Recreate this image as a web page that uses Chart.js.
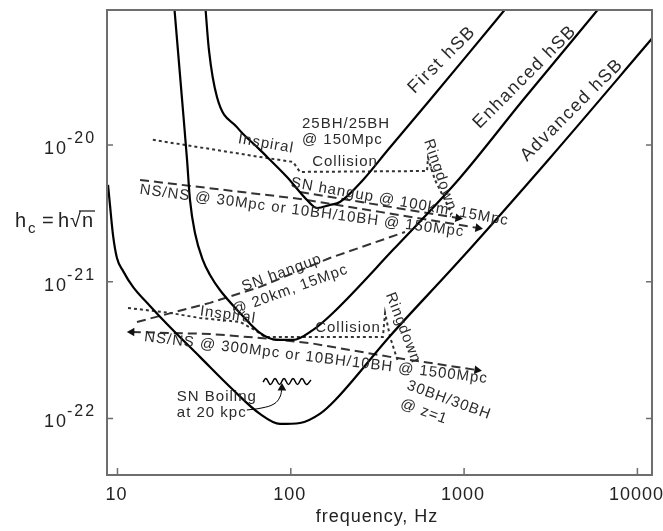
<!DOCTYPE html>
<html>
<head>
<meta charset="utf-8">
<script src="https://cdn.jsdelivr.net/npm/chart.js@4.4.1/dist/chart.umd.min.js"></script>
<style>
  html, body { margin: 0; padding: 0; background: #fff; }
</style>
</head>
<body>
<canvas id="grafico" width="663" height="531"></canvas>
<script>
// detector sensitivity curves: frequency (Hz) and strain h_c
var firstF = [32, 33.7, 37.5, 48.9, 66.4, 95.1, 124, 142, 168, 192, 261, 359, 635, 1081, 1791];
var firstH = [1.1e-19, 4.95e-20, 2.24e-20, 1.35e-20, 9.2e-21, 5.83e-21, 3.96e-21, 3.46e-21, 3.64e-21, 3.83e-21, 5.55e-21, 9.04e-21, 2.13e-20, 4.79e-20, 1.04e-19];

var enhF = [21.2, 23.6, 25.2, 26.2, 28.0, 31.1, 34.2, 39.0, 50.9, 66.4, 83.2, 103, 134, 175, 389, 946, 2188, 6166];
var enhH = [1.07e-19, 2.13e-20, 7.77e-21, 3.96e-21, 2.27e-21, 1.44e-21, 1.12e-21, 8.7e-22, 5.91e-22, 4.22e-22, 3.75e-22, 3.75e-22, 4.43e-22, 5.91e-22, 1.71e-21, 5.74e-21, 2.13e-20, 1.04e-19];

var advF = [8.82, 9.05, 9.42, 9.93, 10.76, 12.29, 15.4, 19.3, 29.9, 46.4, 66.4, 86.6, 113, 147, 180, 374, 946, 3131, 12640];
var advH = [5.1e-21, 3.64e-21, 2.2e-21, 1.49e-21, 1.2e-21, 9.16e-22, 6.65e-22, 4.91e-22, 2.82e-22, 1.62e-22, 1.08e-22, 9.12e-23, 9.27e-23, 1.08e-22, 1.36e-22, 4.01e-22, 1.44e-21, 8.04e-21, 6.37e-20];

// 25BH/25BH @ 150Mpc: inspiral, collision, ringdown
var bh25F = [16.0, 66.4, 103, 113, 611, 619, 679, 851];
var bh25H = [1.09e-20, 8.17e-21, 7.51e-21, 6.35e-21, 6.45e-21, 8.04e-21, 5.55e-21, 3.13e-21];

// 30BH/30BH @ z=1: inspiral, collision, ringdown
var bh30F = [11.5, 20.1, 29.9, 50.9, 62.1, 71.0, 340, 350, 374, 416];
var bh30H = [6.43e-22, 5.91e-22, 5.43e-22, 5.08e-22, 4.43e-22, 3.94e-22, 3.94e-22, 5.91e-22, 3.94e-22, 2.59e-22];

// NS/NS and SN hangup tracks
var ns30F = [13.5, 113, 327, 1203];
var ns30H = [5.55e-21, 4.03e-21, 3.24e-21, 2.47e-21];
var sn100F = [113, 922];
var sn100H = [4.53e-21, 2.92e-21];
var sn20F = [12.96, 34.2, 66.4, 168, 456];
var sn20H = [5.08e-22, 7.0e-22, 9.16e-22, 1.49e-21, 2.31e-21];
var ns300F = [12.1, 34.2, 66.4, 129, 374, 1187];
var ns300H = [4.29e-22, 4.15e-22, 3.88e-22, 3.56e-22, 2.82e-22, 2.26e-22];

// SN boiling wiggle and its pointer
var boilF = [69.1, 71.9, 76.4, 81.1, 86.1, 91.4, 97.0, 103.0, 109.3, 116.0, 123.2, 130.8];
var boilH = [1.845e-22, 1.96e-22, 1.77e-22, 1.96e-22, 1.77e-22, 1.96e-22, 1.77e-22, 1.96e-22, 1.77e-22, 1.96e-22, 1.77e-22, 1.914e-22];
var ptrF = [55.8, 68.2, 80.0, 86.6, 88.9];
var ptrH = [1.153e-22, 1.194e-22, 1.277e-22, 1.436e-22, 1.67e-22];

// axis ticks
var xTicks = [10, 100, 1000, 10000];
var yTicks = [1e-22, 1e-21, 1e-20];
var yExp = ['-22', '-21', '-20'];

// text labels placed in data coordinates
var notas = [
  { t: 'First hSB', f: 746, h: 4.19e-20, rot: -45, size: 18 },
  { t: 'Enhanced hSB', f: 2244, h: 3.14e-20, rot: -45, size: 18 },
  { t: 'Advanced hSB', f: 4195, h: 1.8e-20, rot: -45, size: 18 },
  { t: '25BH/25BH', f: 116, h: 1.43e-20, rot: 0, size: 15, align: 'left' },
  { t: '@ 150Mpc', f: 116, h: 1.09e-20, rot: 0, size: 15, align: 'left' },
  { t: 'Inspiral', f: 71.9, h: 1.02e-20, rot: 10, size: 15 },
  { t: 'Collision', f: 205.5, h: 7.51e-21, rot: 0, size: 15 },
  { t: 'Ringdown', f: 726, h: 6.04e-21, rot: 71, size: 15 },
  { t: 'SN hangup @ 100km, 15Mpc', f: 426, h: 3.83e-21, rot: 10, size: 15 },
  { t: 'NS/NS @ 30Mpc or 10BH/10BH @ 150Mpc', f: 116, h: 3.29e-21, rot: 7.5, size: 15 },
  { t: 'SN hangup', f: 88.9, h: 1.16e-21, rot: -20, size: 15 },
  { t: '@ 20km, 15Mpc', f: 98.9, h: 8.7e-22, rot: -20, size: 15 },
  { t: 'Inspiral', f: 43.4, h: 5.71e-22, rot: 8, size: 15 },
  { t: 'Collision', f: 213.8, h: 4.59e-22, rot: 0, size: 15 },
  { t: 'Ringdown', f: 444, h: 4.59e-22, rot: 69, size: 15 },
  { t: 'NS/NS @ 300Mpc or 10BH/10BH @ 1500Mpc', f: 139.8, h: 2.77e-22, rot: 7, size: 15 },
  { t: '30BH/30BH', f: 818, h: 1.36e-22, rot: 20, size: 15 },
  { t: '@ z=1', f: 587, h: 1.12e-22, rot: 20, size: 15 },
  { t: 'SN Boiling', f: 22.0, h: 1.44e-22, rot: 0, size: 15, align: 'left' },
  { t: 'at 20 kpc', f: 22.0, h: 1.1e-22, rot: 0, size: 15, align: 'left' }
];

var FONTE = '"Liberation Sans", Arial, Helvetica, sans-serif';

function pontos(fs, hs) {
  return fs.map(function (f, i) { return { x: f, y: hs[i] }; });
}

// arrow heads drawn as rotated triangles on chosen points
function setas(mapa) {
  return {
    pointStyle: 'triangle',
    pointRadius: function (c) { return mapa[c.dataIndex] !== undefined ? 5 : 0; },
    pointRotation: function (c) { return mapa[c.dataIndex] || 0; },
    pointBackgroundColor: '#111',
    pointBorderColor: '#111',
    pointBorderWidth: 0
  };
}

function curva(fs, hs) {
  return { data: pontos(fs, hs), borderColor: '#000', borderWidth: 2.2, cubicInterpolationMode: 'monotone', pointRadius: 0 };
}

function pontilhado(fs, hs) {
  return { data: pontos(fs, hs), borderColor: '#333', borderWidth: 2, borderDash: [3, 3], pointRadius: 0 };
}

function tracejado(fs, hs, mapa) {
  return Object.assign({ data: pontos(fs, hs), borderColor: '#333', borderWidth: 2, borderDash: [9, 5] }, setas(mapa));
}

function escreve(ctx, s, x, y, rot, size, align, esp) {
  ctx.save();
  ctx.translate(x, y);
  ctx.rotate(rot * Math.PI / 180);
  ctx.font = size + 'px ' + FONTE;
  ctx.letterSpacing = esp + 'px';
  ctx.textAlign = align || 'center';
  ctx.textBaseline = 'middle';
  ctx.fillText(s, 0, 0);
  ctx.restore();
}

var moldura = {
  id: 'moldura',
  afterDraw: function (chart) {
    var ctx = chart.ctx, a = chart.chartArea;
    var sx = chart.scales.x, sy = chart.scales.y;
    ctx.save();

    // annotations
    ctx.fillStyle = '#2b2b2b';
    notas.forEach(function (n) {
      escreve(ctx, n.t, sx.getPixelForValue(n.f), sy.getPixelForValue(n.h), n.rot, n.size, n.align, n.size > 16 ? 1.5 : 1);
    });

    // frame
    ctx.strokeStyle = '#6e6e6e';
    ctx.lineWidth = 2;
    ctx.strokeRect(a.left, a.top, a.right - a.left, a.bottom - a.top);

    // inward ticks
    ctx.lineWidth = 1.5;
    ctx.beginPath();
    sx.ticks.forEach(function (t) {
      var x = sx.getPixelForValue(t.value);
      ctx.moveTo(x, a.bottom); ctx.lineTo(x, a.bottom - 7);
    });
    sy.ticks.forEach(function (t) {
      var y = sy.getPixelForValue(t.value);
      ctx.moveTo(a.left, y); ctx.lineTo(a.left + 6, y);
      ctx.moveTo(a.right, y); ctx.lineTo(a.right - 6, y);
    });
    ctx.stroke();

    // tick labels
    ctx.fillStyle = '#222';
    ctx.textBaseline = 'alphabetic';
    ctx.letterSpacing = '1px';
    ctx.font = '18px ' + FONTE;
    ctx.textAlign = 'center';
    sx.ticks.forEach(function (t) {
      ctx.fillText(String(t.value), sx.getPixelForValue(t.value) - 1, a.bottom + 25);
    });
    sy.ticks.forEach(function (t, i) {
      var y = sy.getPixelForValue(t.value);
      ctx.letterSpacing = '2px';
      ctx.font = '18px ' + FONTE;
      ctx.textAlign = 'right';
      ctx.fillText('10', a.left - 39, y + 9);
      ctx.font = '16px ' + FONTE;
      ctx.textAlign = 'left';
      ctx.fillText(yExp[i], a.left - 40, y - 2);
    });

    // axis titles
    ctx.letterSpacing = '1px';
    ctx.font = '18px ' + FONTE;
    ctx.textAlign = 'center';
    ctx.fillText('frequency, Hz', 377, a.bottom + 47);

    ctx.letterSpacing = '0px';
    ctx.textAlign = 'left';
    var base = 227;
    ctx.font = '20px ' + FONTE;
    ctx.fillText('h', 15, base);
    ctx.font = '15px ' + FONTE;
    ctx.fillText('c', 28, base + 6);
    ctx.font = '20px ' + FONTE;
    ctx.fillText('=', 42, base);
    ctx.fillText('h', 58, base);
    ctx.fillText('\u221A', 70, base);
    ctx.fillText('n', 82, base);
    ctx.strokeStyle = '#222';
    ctx.lineWidth = 1.3;
    ctx.beginPath();
    ctx.moveTo(79, base - 16); ctx.lineTo(95, base - 16);
    ctx.stroke();

    ctx.restore();
  }
};

new Chart(document.getElementById('grafico'), {
  type: 'scatter',
  data: {
    datasets: [
      curva(firstF, firstH),
      curva(enhF, enhH),
      curva(advF, advH),
      pontilhado(bh25F, bh25H),
      pontilhado(bh30F, bh30H),
      tracejado(ns30F, ns30H, { 3: 99 }),
      tracejado(sn100F, sn100H, { 1: 99 }),
      tracejado(sn20F, sn20H, {}),
      tracejado(ns300F, ns300H, { 0: 271, 5: 98 }),
      { data: pontos(boilF, boilH), borderColor: '#000', borderWidth: 1.5, tension: 0.4, pointRadius: 0 },
      Object.assign({ data: pontos(ptrF, ptrH), borderColor: '#000', borderWidth: 1, tension: 0.4 }, setas({ 4: 0 }))
    ]
  },
  options: {
    responsive: false,
    animation: false,
    events: [],
    showLine: true,
    layout: { padding: { left: 107, right: 11, top: 10, bottom: 56 } },
    plugins: { legend: { display: false }, tooltip: { enabled: false } },
    scales: {
      x: {
        type: 'logarithmic', display: false, min: 8.70, max: 12140,
        afterBuildTicks: function (s) { s.ticks = xTicks.map(function (v) { return { value: v }; }); }
      },
      y: {
        type: 'logarithmic', display: false, min: 3.86e-23, max: 9.7e-20,
        afterBuildTicks: function (s) { s.ticks = yTicks.map(function (v) { return { value: v }; }); }
      }
    }
  },
  plugins: [moldura]
});
</script>
</body>
</html>
